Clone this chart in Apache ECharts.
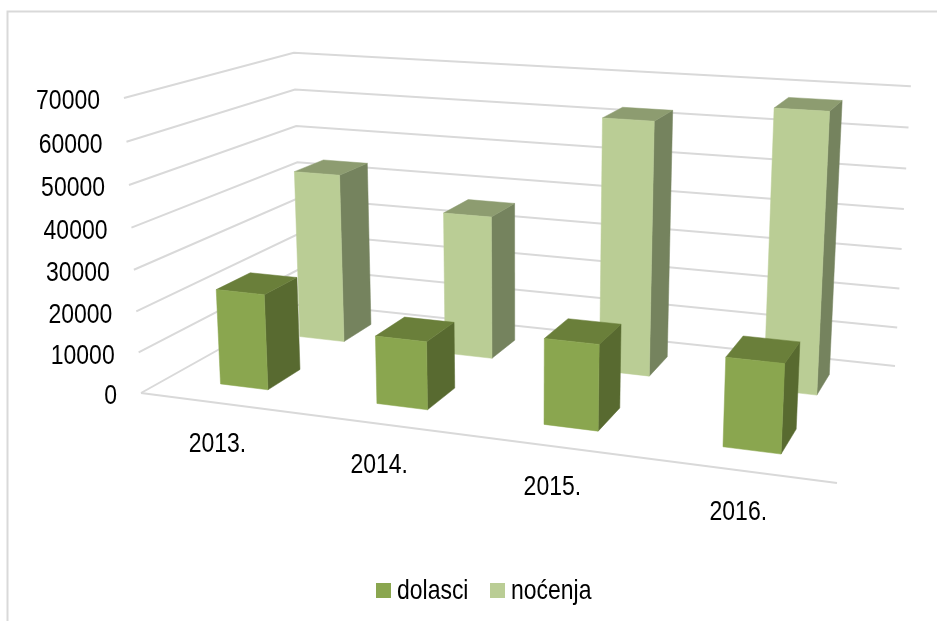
<!DOCTYPE html>
<html><head><meta charset="utf-8">
<style>html,body{margin:0;padding:0;background:#fff}#c{width:937px;height:621px}</style>
<script src="https://cdn.jsdelivr.net/npm/echarts@6/dist/echarts.min.js"></script>
</head><body><div id="c"></div>
<script>
const categories = ['2013.', '2014.', '2015.', '2016.'];
const seriesNames = ['dolasci', 'noćenja'];
const dolasci = [23400, 16300, 20100, 20300];
const nocenja = [43900, 36400, 62800, 67600];
const yTicks = [0, 10000, 20000, 30000, 40000, 50000, 60000, 70000];

const FONT = '28px "Liberation Sans",Arial,sans-serif';
const NARROW = 0.82;
// Perspective camera: floor corners (front-left, front-right, back-right, back-left) and vertical vanishing point
const Q = [[141,393],[837,483],[895,366],[302,303]];
const V = [521,6965];
const TOP_FL = [124,98];
const cam = (function(){
  const [x0,y0]=Q[0],[x1,y1]=Q[1],[x2,y2]=Q[2],[x3,y3]=Q[3];
  const dx1=x1-x2,dx2=x3-x2,sx=x0-x1+x2-x3,dy1=y1-y2,dy2=y3-y2,sy=y0-y1+y2-y3;
  const den=dx1*dy2-dx2*dy1;
  const g=(sx*dy2-dx2*sy)/den,h=(dx1*sy-sx*dy1)/den;
  const k=(y0-TOP_FL[1])/(V[1]-TOP_FL[1]);
  return {a:x1-x0+g*x1,b:x3-x0+h*x3,c:x0,d:y1-y0+g*y1,e:y3-y0+h*y3,f:y0,g,h,k:-k};
})();
function project(u,v,w){
  const c=cam, W=c.g*u+c.h*v+1+w*c.k;
  return [(c.a*u+c.b*v+c.c+w*c.k*V[0])/W,(c.d*u+c.e*v+c.f+w*c.k*V[1])/W];
}
function norm(params,p){
  const r=params.coordSys;
  return [(p[0]-r.x)/r.width,(r.y+r.height-p[1])/r.height];
}
function label(text,x,y,align){
  return {type:'text',x:x,y:y,scaleX:NARROW,style:{text:text,x:0,y:0,font:FONT,fill:'#000',textAlign:align,textVerticalAlign:'middle'}};
}
function barRenderer(vFrom,vTo,front,side,top){
  return function(params,api){
    const cat=api.value(0), val=api.value(1);
    const r=params.coordSys;
    const band=api.size([1,0])[0]/r.width;
    const n=norm(params,api.coord([cat,val]));
    const uc=n[0], w=n[1];
    const u0=uc-band*0.155,u1=uc+band*0.155;
    const f=project;
    const poly=(pts,fill)=>({type:'polygon',shape:{points:pts},style:{fill:fill,stroke:fill,lineWidth:0.5}});
    return {type:'group',children:[
      poly([f(u1,vFrom,0),f(u1,vTo,0),f(u1,vTo,w),f(u1,vFrom,w)],side),
      poly([f(u0,vFrom,w),f(u1,vFrom,w),f(u1,vTo,w),f(u0,vTo,w)],top),
      poly([f(u0,vFrom,0),f(u1,vFrom,0),f(u1,vFrom,w),f(u0,vFrom,w)],front)
    ]};
  };
}
const chart=echarts.init(document.getElementById('c'),null,{renderer:'canvas'});
chart.setOption({
  animation:false,
  backgroundColor:'#fff',
  graphic:[
    {type:'polyline',shape:{points:[[7.5,621],[7.5,11.5],[937,11.5]]},style:{stroke:'#d9d9d9',lineWidth:2,fill:null},silent:true},
    Object.assign(label(seriesNames[0],397,591,'left'),{silent:true}),
    Object.assign(label(seriesNames[1],511,591,'left'),{silent:true})
  ],
  legend:{data:seriesNames,left:376,top:583,icon:'rect',itemWidth:15,itemHeight:15,itemGap:99,selectedMode:false,formatter:()=>'',padding:0},
  grid:{left:100,right:100,top:100,bottom:100},
  xAxis:{type:'category',data:categories,show:false},
  yAxis:{type:'value',min:0,max:70000,interval:10000,show:false},
  series:[
    {type:'custom',name:'walls',silent:true,z:1,data:yTicks.map(t=>[0,t]),encode:{x:0,y:1},
     renderItem(params,api){
       const val=api.value(1);
       const w=norm(params,api.coord([0,val]))[1];
       const line={stroke:'#d9d9d9',lineWidth:2,fill:null};
       const ch=[{type:'polyline',shape:{points:[project(0,0,w),project(0,1,w),project(1,1,w)]},style:line}];
       if(val===0) ch.push({type:'line',shape:{x1:project(0,0,0)[0],y1:project(0,0,0)[1],x2:project(1,0,0)[0],y2:project(1,0,0)[1]},style:line});
       const p=project(0,0,w);
       ch.push(label(String(val),p[0]-24,p[1]+3.5,'right'));
       return {type:'group',children:ch};
     }},
    {type:'custom',name:'labels',silent:true,z:1,data:categories.map((c,i)=>[i,0]),encode:{x:0,y:1},
     renderItem(params,api){
       const i=api.value(0);
       const u=norm(params,api.coord([i,0]))[0];
       const p=project(u,0,0);
       return label(categories[i],p[0]-0.5,p[1]+41.5,'center');
     }},
    {type:'custom',name:seriesNames[1],z:2,itemStyle:{color:'#bacd95'},data:nocenja.map((v,i)=>[i,v]),encode:{x:0,y:1},
     renderItem:barRenderer(0.65,0.85,'#bacd95','#75835e','#8d9c70')},
    {type:'custom',name:seriesNames[0],z:3,itemStyle:{color:'#8aa64f'},data:dolasci.map((v,i)=>[i,v]),encode:{x:0,y:1},
     renderItem:barRenderer(0.15,0.35,'#8aa64f','#586a30','#6a7f3a')}
  ]
});
</script></body></html>
